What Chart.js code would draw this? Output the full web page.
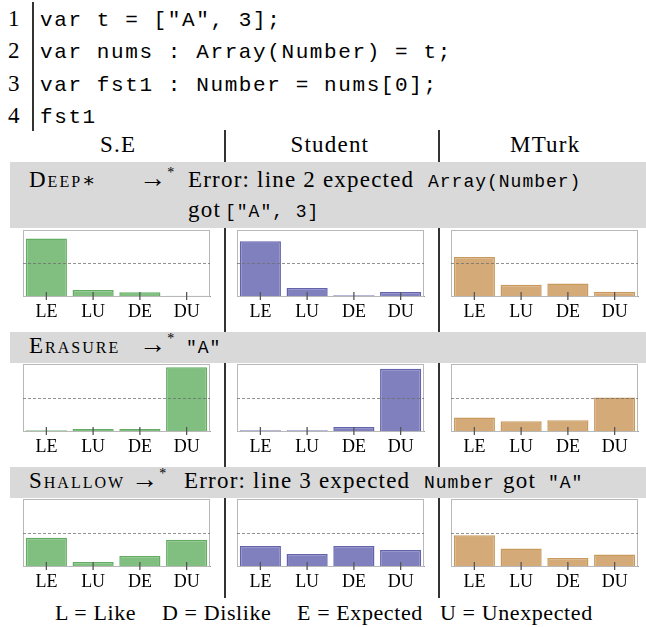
<!DOCTYPE html>
<html>
<head>
<meta charset="utf-8">
<script src="https://cdn.jsdelivr.net/npm/chart.js@4.4.0/dist/chart.umd.min.js"></script>
<style>
body { margin: 0; background: #fff; }
#fig { position: relative; width: 646px; height: 627px; overflow: hidden; font-family: "Liberation Serif", Tinos, "Times New Roman", "DejaVu Serif", "Noto Serif", serif; color: #000; }
.t { position: absolute; white-space: pre; line-height: normal; }
.band { position: absolute; left: 10px; right: 0; background: #d9d9d9; }
.vline { position: absolute; width: 1.5px; background: #333; }
canvas { position: absolute; }
</style>
</head>
<body>
<div id="fig"></div>
<script>
// chart data (share of answers per category)
const categories = ['LE', 'LU', 'DE', 'DU']
const columns = ['S.E', 'Student', 'MTurk']

const deepSE = [0.87, 0.09, 0.055, 0.005]
const deepStudent = [0.83, 0.12, 0.01, 0.06]
const deepMTurk = [0.59, 0.17, 0.19, 0.065]

const erasureSE = [0.01, 0.03, 0.03, 0.95]
const erasureStudent = [0.01, 0.01, 0.06, 0.93]
const erasureMTurk = [0.2, 0.145, 0.16, 0.5]

const shallowSE = [0.42, 0.06, 0.15, 0.39]
const shallowStudent = [0.30, 0.18, 0.30, 0.24]
const shallowMTurk = [0.46, 0.26, 0.12, 0.17]

const refLine = 0.5

const codeLines = ['var t = ["A", 3];', 'var nums : Array(Number) = t;', 'var fst1 : Number = nums[0];', 'fst1']
const legendItems = ['L = Like', 'D = Dislike', 'E = Expected', 'U = Unexpected']

// layout
const fig = document.getElementById('fig')
const serifFamily = '"Liberation Serif", Tinos, "Times New Roman", "DejaVu Serif", "Noto Serif", serif'
const boxLeft = [23, 237, 451]
const boxW = 187
const boxTop = [230, 364, 499]
const boxH = [66, 67, 67]
const fills = ['#80bf80', '#8080bf', '#d4aa78']
const edges = ['#62ad62', '#6262ad', '#c99a5e']

function put(html, x, base, style, align) {
    let d = document.createElement('div')
    d.className = 't'
    d.style.cssText = style || ''
    d.innerHTML = html + '<span style="display:inline-block;width:0;height:0"></span>'
    fig.appendChild(d)
    let off = d.lastChild.getBoundingClientRect().top - d.getBoundingClientRect().top
    d.style.top = (base - off) + 'px'
    d.style.left = (align === 'center' ? x - d.offsetWidth / 2 : x) + 'px'
}
function box(cls, x, y, w, h) {
    let d = document.createElement('div')
    d.className = cls
    d.style.top = y + 'px'
    d.style.height = h + 'px'
    if (x !== null) d.style.left = x + 'px'
    if (w !== null) d.style.width = w + 'px'
    fig.appendChild(d)
}

const serif = 'font-size:23px;letter-spacing:1.2px;'
const sc = 'font-size:23px;letter-spacing:2px;font-variant:small-caps;'
const mono = 'font-family:"Liberation Mono","DejaVu Sans Mono",monospace;font-size:18px;letter-spacing:1px;'
const arrow = '<span style="font-size:27px">→</span><sup style="font-size:14px;vertical-align:10px">*</sup>'

// code block
const codeBase = [25.5, 58, 90.7, 123.4]
codeLines.forEach((l, i) => {
    put(String(i + 1), 8, codeBase[i], 'font-size:23px;')
    put(l, 40, codeBase[i], 'font-family:"Liberation Mono","DejaVu Sans Mono",monospace;font-size:21px;letter-spacing:1.6px;')
})
box('vline', 32, 2, null, 129)

// column dividers + headers
box('vline', 224, 130, null, 468)
box('vline', 438, 130, null, 468)
put(columns[0], 118, 152, serif, 'center')
put(columns[1], 330, 152, serif, 'center')
put(columns[2], 545, 152, serif, 'center')

// grey rows
box('band', null, 162, null, 66)
box('band', null, 332, null, 31)
box('band', null, 467, null, 31)

put('Deep<span style="font-variant:normal;font-size:20px">∗</span>', 29, 187, sc)
put(arrow, 139, 187, serif)
put('Error: line 2 expected', 188, 187, serif)
put('Array(Number)', 428, 187, mono)
put('got', 188, 217, serif)
put('["A", 3]', 225, 217, mono)

put('Erasure', 29, 353, sc)
put(arrow, 139, 353, serif)
put('"A"', 186, 353, mono)

put('Shallow', 29, 488, sc)
put(arrow, 131, 488, serif)
put('Error: line 3 expected', 184, 488, serif)
put('Number', 424, 488, mono)
put('got', 503, 488, serif)
put('"A"', 548, 488, mono)

// legend
const legendX = [55, 162, 297, 440]
legendItems.forEach((t, i) => put(t, legendX[i], 620, 'font-size:22px;letter-spacing:0.6px;'))

// frame, dashed reference line and tick marks
const framePlugin = {
    id: 'frame',
    beforeDatasetsDraw(c) {
        let a = c.chartArea, g = c.ctx
        g.save()
        g.strokeStyle = '#b8b8b8'
        g.lineWidth = 1
        g.strokeRect(a.left + 0.5, a.top + 0.5, a.right - a.left - 1, a.bottom - a.top)
        g.restore()
    },
    afterDatasetsDraw(c) {
        let a = c.chartArea, g = c.ctx, xs = c.scales.x
        let y = Math.round(c.scales.y.getPixelForValue(refLine)) + 0.5
        g.save()
        g.setLineDash([3, 2])
        g.strokeStyle = 'rgba(110,110,110,0.75)'
        g.lineWidth = 1
        g.beginPath(); g.moveTo(a.left, y); g.lineTo(a.right, y); g.stroke()
        g.setLineDash([])
        g.strokeStyle = '#555'
        g.lineWidth = 1.3
        xs.ticks.forEach((t, i) => {
            let px = xs.getPixelForTick(i)
            g.beginPath(); g.moveTo(px, a.bottom - 4); g.lineTo(px, a.bottom + 4); g.stroke()
        })
        g.restore()
    }
}

const rows = [
    [deepSE, deepStudent, deepMTurk],
    [erasureSE, erasureStudent, erasureMTurk],
    [shallowSE, shallowStudent, shallowMTurk]
]

rows.forEach((row, r) => {
    row.forEach((vals, col) => {
        let cv = document.createElement('canvas')
        cv.width = boxW + 2
        cv.height = boxH[r] + 31
        cv.style.left = (boxLeft[col] - 1) + 'px'
        cv.style.top = (boxTop[r] - 1) + 'px'
        fig.appendChild(cv)
        new Chart(cv, {
            type: 'bar',
            data: {
                labels: categories,
                datasets: [{
                    data: vals,
                    backgroundColor: fills[col],
                    borderColor: edges[col],
                    borderWidth: 1.5,
                    barPercentage: 0.88,
                    categoryPercentage: 1
                }]
            },
            options: {
                responsive: false,
                animation: false,
                events: [],
                layout: { padding: { left: 1, right: 1, top: 1, bottom: 0 } },
                plugins: { legend: { display: false }, tooltip: { enabled: false } },
                scales: {
                    x: {
                        grid: { display: false },
                        border: { display: true, color: '#999', width: 1 },
                        ticks: { color: '#000', padding: -3, font: { family: serifFamily, size: 18 } },
                        afterFit(s) { s.height = 30 }
                    },
                    y: { display: false, min: 0, max: 1 }
                }
            },
            plugins: [framePlugin]
        })
    })
})
</script>
</body>
</html>
